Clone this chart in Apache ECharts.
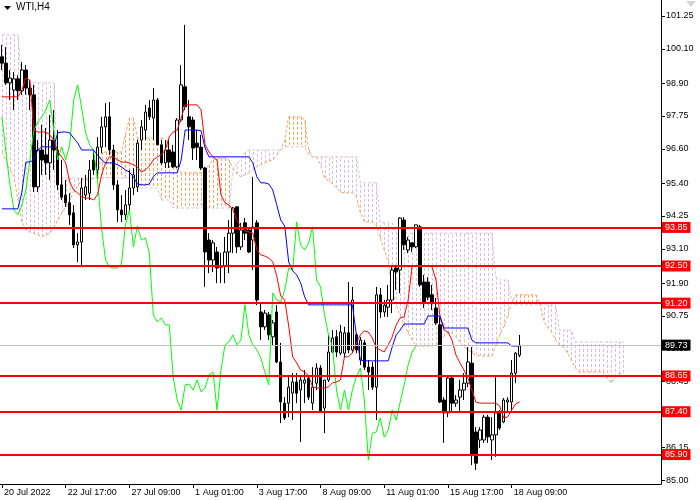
<!DOCTYPE html>
<html>
<head>
<meta charset="utf-8">
<script src="https://cdn.jsdelivr.net/npm/echarts@6/dist/echarts.min.js"></script>
<style>
html,body{margin:0;padding:0;background:#fff;}
#chart{width:700px;height:500px;}
</style>
</head>
<body>
<div id="chart"></div>
<script>
// ---- data ----
const slotCount = 166;
const xTickIndex = [0,16,32,48,64,80,96,112,128];
const xTickText = ['20 Jul 2022','22 Jul 17:00','27 Jul 09:00','1 Aug 01:00','3 Aug 17:00','8 Aug 09:00','11 Aug 01:00','15 Aug 17:00','18 Aug 09:00'];
const yTicks = [85.00,86.15,87.30,88.45,89.60,90.75,91.90,93.10,94.25,95.40,96.60,97.75,98.90,100.10,101.25];

const candleOpen = [99.82,99.60,98.91,98.66,99.05,98.63,99.36,98.73,98.49,95.27,
96.56,96.39,96.11,96.91,96.56,95.34,94.98,94.71,94.36,93.24,
93.34,94.98,95.05,96.21,95.86,96.66,97.37,97.72,96.56,95.34,
94.46,94.29,94.64,95.23,95.27,96.91,97.26,98.03,97.68,98.31,
96.74,96.11,96.56,96.49,95.97,97.61,98.77,97.72,97.61,96.80,
96.66,95.93,93.41,92.71,92.99,92.46,92.50,92.99,93.65,94.57,
93.17,94.01,93.76,93.41,94.01,90.89,90.37,90.79,90.02,90.89,
89.14,87.70,87.70,88.05,88.44,88.16,88.40,88.58,87.70,88.40,
88.93,87.53,88.51,89.49,90.02,89.45,89.45,90.16,89.56,90.09,
89.21,89.81,88.96,88.96,88.26,91.49,90.89,91.06,91.31,92.43,
92.36,94.11,93.06,93.31,93.17,93.87,91.94,91.94,91.49,91.03,
90.44,87.81,87.36,88.58,87.70,87.91,88.16,88.40,89.10,86.69,
86.41,86.41,87.21,86.41,86.59,87.36,87.04,87.74,87.74,88.75,
89.38];
const candleHigh = [100.24,100.16,99.36,99.29,99.18,99.64,99.53,99.01,98.84,96.91,
97.44,97.33,97.79,97.96,97.26,96.21,95.51,95.05,94.63,93.65,
95.58,95.69,96.21,96.56,97.01,97.72,98.20,98.24,96.74,95.51,
94.98,95.16,95.86,95.93,96.91,97.61,98.14,98.31,98.73,98.38,
96.91,96.91,96.91,96.74,97.68,99.53,100.94,98.31,97.72,97.26,
97.09,95.97,93.65,93.41,93.17,92.96,93.52,94.11,94.57,94.57,
94.01,94.18,93.86,95.62,94.11,91.20,90.96,90.89,90.61,91.13,
89.81,87.91,88.61,88.75,88.75,88.61,88.86,88.68,88.96,89.10,
89.03,88.51,90.09,90.26,90.26,90.44,90.37,91.94,91.77,90.16,
90.02,89.91,89.21,89.14,91.77,91.73,91.31,91.84,92.47,92.54,
94.21,94.21,93.52,93.31,93.94,93.94,92.19,92.11,91.84,91.38,
90.72,87.91,88.61,88.61,87.98,88.51,88.75,89.66,89.66,86.86,
86.86,87.29,87.29,87.21,88.61,87.46,87.88,87.91,89.21,89.49,
90.09];
const candleLow = [99.36,98.84,98.31,97.96,98.31,98.49,98.49,97.96,95.09,95.09,
95.69,95.69,95.51,95.86,95.16,94.81,94.57,93.94,93.13,92.64,
92.47,94.81,94.81,95.69,95.51,96.46,96.66,96.39,95.16,94.04,
94.04,94.11,94.39,94.98,95.09,96.56,96.91,97.61,96.91,96.74,
96.04,95.93,95.93,95.93,95.93,97.54,97.96,96.91,96.21,96.21,
95.86,91.77,92.25,92.29,91.90,91.90,91.90,92.25,92.95,92.95,
93.06,93.41,92.95,92.36,91.13,89.91,90.26,89.91,89.73,89.10,
87.00,87.11,87.21,87.11,87.70,86.34,87.70,87.81,87.46,88.16,
87.39,86.65,88.44,89.45,89.31,89.38,89.31,89.45,89.45,89.45,
89.03,88.86,88.16,88.16,87.11,90.68,90.72,90.72,90.85,91.66,
91.55,93.06,92.95,92.99,93.13,91.77,91.03,91.31,90.96,90.44,
87.70,86.31,87.21,87.36,87.57,87.36,87.81,88.26,85.53,85.36,
86.13,86.31,86.31,85.71,85.82,86.76,87.00,87.36,87.36,88.40,
89.31];
const candleClose = [99.60,98.91,99.08,99.05,98.63,99.36,98.73,98.49,95.27,96.56,
96.21,96.11,96.91,96.56,95.34,94.91,94.71,94.29,93.24,93.34,
95.23,95.27,95.86,95.86,96.66,97.37,97.72,96.56,95.34,94.46,
94.29,94.64,95.23,95.69,96.80,97.37,97.89,97.72,98.31,96.74,
96.11,96.56,96.14,95.97,97.61,98.84,98.07,97.37,96.63,96.66,
95.93,92.99,92.71,93.31,92.43,92.50,92.99,93.65,94.53,93.17,
93.76,93.65,92.99,93.86,91.31,90.37,90.85,90.09,90.51,89.14,
87.74,87.18,88.26,88.44,88.05,88.51,88.51,87.91,88.26,88.93,
87.39,88.51,89.49,89.98,89.49,90.19,90.16,89.56,91.31,89.56,
89.91,88.96,88.79,88.26,91.49,90.89,91.13,91.31,92.36,92.29,
94.18,93.24,93.41,93.17,93.94,91.84,91.24,91.41,91.20,90.51,
87.74,87.36,88.58,87.70,87.81,88.16,88.40,89.14,85.89,85.60,
86.76,87.21,86.52,86.59,87.36,86.83,87.81,87.81,88.75,89.45,
89.73];

const tenkan = [98.42,98.42,98.42,98.42,98.42,98.66,99.08,99.01,97.26,97.19,
97.19,97.19,97.09,96.91,96.49,96.32,96.11,95.44,95.16,95.06,
94.92,94.88,94.88,94.81,94.99,95.69,96.11,96.32,96.32,96.21,
96.14,96.14,96.11,96.04,95.97,95.79,95.86,96.00,96.21,96.32,
96.39,96.56,97.02,97.19,97.26,97.68,98.14,98.14,98.14,98.14,
97.96,96.74,96.49,96.32,96.21,94.99,94.71,94.64,94.46,94.11,
93.87,93.73,93.69,93.65,93.06,92.89,92.85,92.78,92.64,92.15,
91.45,91.31,90.40,89.32,89.11,88.86,88.79,88.65,88.27,88.23,
88.23,88.23,88.27,88.41,88.44,88.51,89.32,89.32,89.46,89.81,
90.09,90.23,90.19,89.98,89.63,89.56,89.49,89.74,90.02,90.44,
90.68,90.72,91.31,92.50,92.50,92.50,92.50,92.50,92.47,92.01,
90.72,90.26,90.19,89.91,89.39,89.11,88.86,88.58,88.16,87.74,
87.70,87.70,87.70,87.70,87.70,87.60,87.18,87.22,87.46,87.67,
87.74];
const kijun = [94.50,94.50,94.50,94.50,94.50,95.09,96.14,96.14,96.21,96.56,
96.67,96.67,96.67,96.67,97.16,97.19,97.19,97.16,96.98,96.81,
96.56,96.56,96.56,96.56,96.39,96.21,96.11,96.11,96.11,96.04,
95.97,95.86,95.79,95.62,95.37,95.34,95.34,95.37,95.62,95.76,
95.76,95.76,95.76,95.76,95.76,96.21,97.26,97.26,97.26,97.26,
97.23,96.63,96.32,96.32,96.32,96.32,96.32,96.32,96.32,96.32,
96.32,96.32,96.32,96.11,95.62,95.41,95.41,95.37,95.16,94.64,
94.11,93.90,92.64,92.33,92.19,91.91,91.42,91.14,91.14,91.14,
91.14,91.14,91.14,91.14,91.14,91.14,91.14,91.14,91.14,90.09,
89.21,89.18,89.18,89.18,89.18,89.18,89.18,89.18,89.67,90.09,
90.26,90.47,90.47,90.47,90.47,90.47,90.47,90.75,90.75,90.75,
90.75,90.33,90.33,90.33,90.33,90.33,90.33,90.33,89.91,89.81,
89.81,89.81,89.81,89.81,89.81,89.81,89.81,89.81,89.70,89.70,
89.70];
const chikou = [97.72,96.46,95.34,94.46,94.29,94.64,95.16,96.21,97.26,97.54,
97.72,97.96,98.31,97.26,96.21,96.67,96.21,96.74,98.31,98.84,
98.03,97.16,96.74,96.56,95.51,93.83,92.71,92.47,92.43,92.43,
92.57,93.94,94.46,93.17,93.90,93.41,93.48,92.96,90.79,90.54,
90.68,90.44,90.44,88.62,87.81,87.46,88.34,88.37,88.16,88.51,
88.09,88.23,88.69,88.79,87.46,88.86,89.74,89.84,90.09,89.74,
89.91,91.14,90.09,89.74,89.56,89.28,88.79,88.34,91.56,91.31,
91.24,91.66,92.43,92.36,94.04,93.24,93.06,93.31,93.87,92.01,
91.77,90.79,90.09,89.67,88.16,87.46,88.16,87.46,88.16,88.62,
88.93,87.81,85.71,86.65,86.69,87.18,86.51,86.76,87.46,87.11,
87.74,88.34,89.04,89.49,89.70];
const senkouA = [96.49,96.21,95.86,95.62,94.81,94.04,93.76,93.69,93.65,93.59,
93.52,93.59,93.65,93.83,94.11,94.36,94.57,94.81,95.09,95.30,
95.51,95.51,95.51,95.58,95.62,96.49,96.49,96.49,96.49,96.49,
96.49,97.09,97.68,97.68,96.98,96.98,96.98,96.98,96.98,96.98,
96.98,96.91,96.56,96.14,95.86,95.76,95.76,95.76,95.76,95.76,
95.76,95.86,96.04,96.21,96.28,96.28,96.28,96.21,95.93,95.72,
95.62,95.69,95.76,95.86,95.97,96.04,96.11,96.18,96.21,96.39,
96.56,96.91,97.72,97.72,97.72,97.72,97.61,96.56,96.32,96.32,
96.04,95.58,95.48,95.37,95.23,95.09,95.06,95.06,95.06,94.92,
94.36,94.04,94.04,94.04,93.94,93.48,93.06,92.64,91.66,91.14,
90.75,90.44,90.16,89.91,89.70,89.70,89.70,89.70,89.70,89.74,
89.84,90.05,90.16,90.16,90.02,89.84,89.67,89.56,89.46,89.39,
89.35,89.35,89.35,89.35,89.74,90.09,90.37,90.75,91.21,91.49,
91.49,91.49,91.49,91.49,91.49,91.21,90.61,90.33,90.19,89.91,
89.74,89.67,89.46,89.21,88.93,88.79,88.79,88.79,88.79,88.79,
88.79,88.79,88.58,88.41,88.62,88.72,88.76];
const senkouB = [100.59,100.59,100.59,100.59,100.59,98.91,98.91,98.91,98.91,98.91,
98.91,98.91,98.91,98.91,95.58,95.58,95.58,95.58,95.58,95.58,
95.58,95.58,95.58,95.58,95.58,95.58,95.58,95.58,95.58,95.58,
95.58,95.58,95.58,95.58,95.23,95.23,95.23,95.23,95.23,95.23,
94.81,94.81,94.81,94.53,94.53,94.53,94.53,94.53,94.53,94.53,
94.53,94.53,94.53,94.53,94.53,94.53,94.53,94.53,95.86,96.11,
96.21,96.46,96.56,96.56,96.56,96.56,96.56,96.56,96.56,96.56,
96.56,96.67,96.67,96.67,96.67,96.67,96.67,96.39,96.32,96.32,
96.32,96.32,96.32,96.32,96.32,96.32,96.32,96.32,96.32,96.32,
95.41,95.41,95.41,95.41,95.41,94.01,94.01,94.01,94.01,93.65,
93.65,93.65,93.65,93.65,93.65,93.65,93.65,93.65,93.65,93.65,
93.65,93.65,93.65,93.65,93.65,93.65,93.65,93.65,93.65,93.65,
93.65,93.65,93.65,93.65,92.12,92.01,92.01,92.01,91.31,91.14,
91.14,91.14,91.14,91.14,91.14,91.14,91.14,91.14,91.14,91.14,
90.26,90.26,90.26,90.26,89.84,89.84,89.84,89.84,89.84,89.84,
89.84,89.84,89.84,89.84,89.84,89.84,89.84];
const levelLines = [93.85,92.50,91.20,88.65,87.40,85.90];
const currentPrice = 89.73;
const symbolTitle = 'WTI,H4';

// ---- build options ----
const categories = [];
for (let i = 0; i < slotCount; i++) categories.push('');
xTickIndex.forEach((idx, k) => { categories[idx] = xTickText[k]; });

const candleData = candleOpen.map((o, i) => [o, candleClose[i], candleLow[i], candleHigh[i]]);
const cloudData = senkouA.map((a, i) => [i, a, senkouB[i]]);

const FONT = "'Liberation Sans', Arial, sans-serif";
const showTick = (index, value) => value !== '';

const chart = echarts.init(document.getElementById('chart'), null, {renderer: 'canvas'});
chart.setOption({
  animation: false,
  backgroundColor: '#ffffff',
  textStyle: {fontFamily: FONT},
  grid: {left: -1, right: 39, top: 0, bottom: 16, containLabel: false},
  xAxis: {
    type: 'category',
    data: categories,
    boundaryGap: true,
    axisLine: {show: true, lineStyle: {color: '#000', width: 1}},
    axisTick: {show: true, alignWithLabel: true, interval: showTick, length: 4, lineStyle: {color: '#000'}},
    axisLabel: {show: true, interval: showTick, align: 'left', color: '#000', fontSize: 9, fontFamily: FONT, margin: 4, padding: [0,0,0,2]},
    splitLine: {show: false}
  },
  yAxis: {
    type: 'value',
    position: 'right',
    min: 84.87,
    max: 101.81,
    scale: true,
    axisLine: {show: true, onZero: false, lineStyle: {color: '#000', width: 1}},
    axisTick: {show: true, length: 4, customValues: yTicks, lineStyle: {color: '#000'}},
    axisLabel: {show: true, customValues: yTicks, formatter: v => Number(v).toFixed(2), color: '#000', fontSize: 9, fontFamily: FONT, margin: 5},
    splitLine: {show: false}
  },
  series: [
    {
      type: 'custom',
      name: 'kumo',
      z: 1,
      clip: true,
      data: cloudData,
      encode: {x: 0, y: [1, 2]},
      renderItem: function (params, api) {
        const i = api.value(0);
        const a = api.value(1), b = api.value(2);
        const p1 = api.coord([i, a]);
        const p2 = api.coord([i, b]);
        const x = Math.round(p1[0]) + 0.5;
        return {
          type: 'line',
          shape: {x1: x, y1: p1[1], x2: x, y2: p2[1]},
          style: {stroke: a >= b ? '#F4A460' : '#D8BFD8', lineWidth: 1, lineDash: [3, 2]}
        };
      }
    },
    {type: 'line', name: 'Senkou A', z: 2, data: senkouA, symbol: 'none', lineStyle: {color: '#F4A460', width: 1, type: [3, 2]}},
    {type: 'line', name: 'Senkou B', z: 2, data: senkouB, symbol: 'none', lineStyle: {color: '#D8BFD8', width: 1, type: [3, 2]}},
    {
      type: 'candlestick',
      name: 'WTI',
      z: 3,
      barWidth: 3,
      data: candleData,
      itemStyle: {color: '#ffffff', color0: '#000000', borderColor: '#000000', borderColor0: '#000000', borderWidth: 1}
    },
    {type: 'line', name: 'Chikou', z: 4, data: chikou, symbol: 'none', lineStyle: {color: '#00FF00', width: 1}},
    {type: 'line', name: 'Tenkan', z: 4, data: tenkan, symbol: 'none', lineStyle: {color: '#FF0000', width: 1}},
    {type: 'line', name: 'Kijun', z: 4, data: kijun, symbol: 'none', lineStyle: {color: '#0000FF', width: 1}},
    {
      type: 'line',
      name: 'levels',
      z: 6,
      data: [],
      markLine: {
        silent: true,
        symbol: ['none', 'none'],
        animation: false,
        data: [{yAxis: currentPrice, lineStyle: {color: '#C0C0C0', width: 1, type: 'solid'},
                label: {backgroundColor: '#000000'}}].concat(
              levelLines.map(v => ({yAxis: v, lineStyle: {color: '#FF0000', width: 2, type: 'solid'},
                label: {backgroundColor: '#FF0000'}}))),
        label: {
          show: true, position: 'end', distance: 1,
          formatter: p => Number(p.value).toFixed(2),
          color: '#ffffff', fontSize: 9, fontFamily: FONT,
          padding: [1, 3, 0, 3], lineHeight: 10
        }
      }
    }
  ],
  graphic: [
    {type: 'polygon', shape: {points: [[4, 6], [11, 6], [7.5, 10]]}, style: {fill: '#000'}},
    {type: 'text', left: 16, top: 2, style: {text: symbolTitle, fill: '#000', font: "10px 'Liberation Sans', Arial, sans-serif"}},
    {type: 'polygon', shape: {points: [[686, 1], [696, 1], [691, 7]]}, style: {fill: '#d4d4d4'}}
  ]
});
</script>
</body>
</html>
